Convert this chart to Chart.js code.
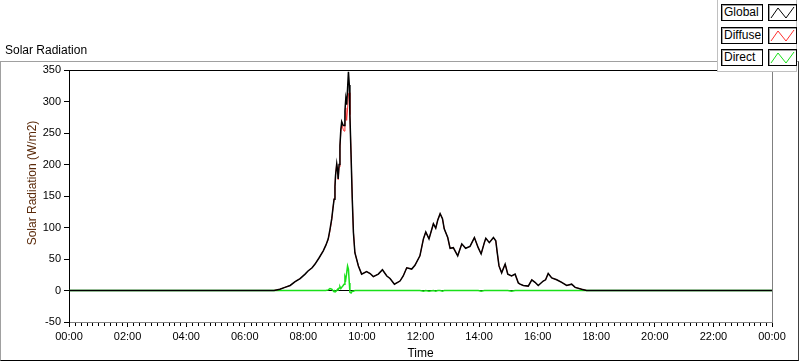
<!DOCTYPE html>
<html>
<head>
<meta charset="utf-8">
<script src="https://cdn.jsdelivr.net/npm/chart.js@4.4.1/dist/chart.umd.min.js"></script>
<style>
  html, body { margin:0; padding:0; background:#fff; }
  body { width:800px; height:361px; overflow:hidden; position:relative; font-family:"Liberation Sans", Arial, sans-serif; }
  #frame { position:absolute; left:0; top:61px; width:797px; height:298px; border-top:1px solid #a0a0a0; border-left:1px solid #a0a0a0; border-bottom:1px solid #000; border-right:1px solid #404040; box-sizing:content-box; }
  #cv { position:absolute; left:0; top:0; }
  #title { position:absolute; left:5px; top:43px; font-size:12px; color:#000; white-space:nowrap; }
  #legend { position:absolute; left:717px; top:0; width:80px; height:72px; background:#fff; border-left:1px solid #c0c0c0; border-bottom:1px solid #c0c0c0; border-right:1px solid #c0c0c0; box-sizing:border-box; }
  .lab { position:absolute; left:3px; width:42px; height:17px; border:1px solid #000; box-shadow: inset 1px 1px 0 #a0a0a0; box-sizing:border-box; font-size:12px; line-height:15px; padding-left:2px; background:#fff; white-space:nowrap; }
  .smp { position:absolute; left:50px; width:29px; height:17px; border:1px solid #000; box-shadow: inset 1px 1px 0 #a0a0a0; box-sizing:border-box; background:#fff; }
  .smp svg { position:absolute; left:0; top:0; }
</style>
</head>
<body>
<div id="frame"></div>
<canvas id="cv" width="800" height="361"></canvas>
<div id="title">Solar Radiation</div>
<div id="legend"></div>
<script>
// ---- data ----
const seriesNames = ["Global", "Diffuse", "Direct"];
const seriesColors = ["#000000", "#ff3030", "#19e019"];

// time of day in hours
const timeHours = [
  0, 7.00, 7.20, 7.37, 7.55, 7.72, 7.89, 8.06, 8.16, 8.30,
  8.40, 8.54, 8.68, 8.77, 8.85, 8.91, 8.97, 9.01, 9.05, 9.08,
  9.10, 9.14, 9.17, 9.19, 9.22, 9.25, 9.28, 9.31, 9.36, 9.39,
  9.42, 9.45, 9.48, 9.51, 9.54, 9.57, 9.59, 9.63, 9.67, 9.71,
  9.76, 9.88, 9.99, 10.16, 10.28, 10.39, 10.56, 10.70, 10.85, 10.96,
  11.11, 11.30, 11.41, 11.53, 11.70, 11.81, 11.98, 12.10, 12.18, 12.29,
  12.44, 12.52, 12.59, 12.67, 12.75, 12.81, 12.93, 13.01, 13.12, 13.27,
  13.41, 13.54, 13.69, 13.84, 13.97, 14.07, 14.18, 14.23, 14.35, 14.49,
  14.57, 14.62, 14.68, 14.77, 14.89, 14.98, 15.11, 15.23, 15.34, 15.40,
  15.51, 15.68, 15.80, 15.91, 16.02, 16.19, 16.27, 16.36, 16.48, 16.65,
  16.82, 16.99, 17.16, 17.28, 17.50, 17.67, 24
];

const globalRad = [
  0, 0, 2, 5, 8, 14, 19, 26, 31, 36,
  42, 52, 63, 72, 82, 97, 114, 130, 145, 165,
  183, 201, 190, 177, 200, 230, 255, 268, 262, 262,
  285, 305, 295, 320, 347, 326, 278, 214, 146, 92,
  60, 39, 26, 30, 27, 22, 26, 33, 23, 19,
  10, 15, 23, 36, 34, 40, 55, 82, 93, 82,
  106, 99, 112, 122, 114, 98, 84, 67, 68, 55,
  74, 67, 70, 84, 68, 58, 76, 83, 76, 84,
  79, 60, 39, 28, 42, 26, 23, 26, 12, 10,
  8, 7, 17, 13, 8, 15, 17, 27, 20, 17,
  13, 8, 10, 5, 2, 0, 0
];

const diffuseRad = [
  0, 0, 2, 5, 8, 14, 19, 26, 31, 36,
  42, 52, 63, 72, 81, 95, 112, 130, 146, 165,
  184, 201, 188, 176, 196, 225, 252, 264, 256, 253,
  267, 290, 270, 288, 312, 314, 279, 216, 147, 93,
  60, 39, 26, 30, 27, 22, 26, 33, 23, 19,
  10, 15, 23, 36, 34, 40, 55, 82, 93, 82,
  106, 99, 112, 122, 114, 98, 84, 67, 68, 55,
  74, 67, 70, 84, 68, 58, 76, 83, 76, 84,
  79, 60, 39, 28, 42, 26, 23, 26, 12, 10,
  8, 7, 17, 13, 8, 15, 17, 27, 20, 17,
  13, 8, 10, 5, 2, 0, 0
];

const directRad = [
  0, 0, 0, 0, 0, 0, 0, 0, 0, 0,
  0, 0, 0, 0, 1, 3, 2, 0, -2, -1,
  -2, 0, 2, 1, 4, 6, 3, 5, 8, 10,
  22, 18, 28, 39, 34, 12, -3, -4, -1, -1,
  0, 0, 0, 0, 0, 0, 0, 0, 0, 0,
  0, 0, 0, 0, 0, 0, 0, -1, 0, -1,
  0, -1, 0, 0, -1, 0, 0, 0, 0, 0,
  0, 0, 0, 0, 0, -1, 0, 0, 0, 0,
  0, 0, 0, 0, 0, 0, -1, 0, 0, 0,
  0, 0, 0, 0, 0, 0, 0, 0, 0, 0,
  0, 0, 0, 0, 0, 0, 0
];

const yTicks = [-50, 0, 50, 100, 150, 200, 250, 300, 350];
const xTickHours = [0, 2, 4, 6, 8, 10, 12, 14, 16, 18, 20, 22, 24];
const xTickLabels = ["00:00","02:00","04:00","06:00","08:00","10:00","12:00","14:00","16:00","18:00","20:00","22:00","00:00"];

// ---- legend (HTML) ----
const legend = document.getElementById('legend');
seriesNames.forEach((name, i) => {
  const top = 4 + i * 22.7;
  const lab = document.createElement('div');
  lab.className = 'lab'; lab.style.top = top + 'px'; lab.textContent = name;
  legend.appendChild(lab);
  const smp = document.createElement('div');
  smp.className = 'smp'; smp.style.top = top + 'px';
  smp.innerHTML = '<svg width="27" height="15" viewBox="0 0 27 15"><polyline points="2,13 9,3 17,13 25,2" fill="none" stroke="' + seriesColors[i] + '" stroke-width="1"/></svg>';
  legend.appendChild(smp);
});

// ---- chart ----
Chart.defaults.font.family = '"Liberation Sans", Arial, sans-serif';
Chart.defaults.font.size = 11;
Chart.defaults.color = '#000';

const mk = (vals) => timeHours.map((t, i) => ({ x: t, y: vals[i] }));

const framePlugin = {
  id: 'frame',
  afterLayout(chart) {
    // shift the y-axis title upward a little, as in the reference
    const ys = chart.scales.y;
    if (ys && !ys._titleShifted) {
      const orig = ys.drawTitle;
      ys.drawTitle = function () {
        const t = this.top, b = this.bottom;
        this.top = t - 13; this.bottom = b - 13;
        orig.call(this);
        this.top = t; this.bottom = b;
      };
      ys._titleShifted = true;
    }
  },
  beforeDatasetsDraw(chart) {
    const { ctx, chartArea: a } = chart;
    ctx.save();
    ctx.lineWidth = 1;
    ctx.strokeStyle = '#808080';
    ctx.beginPath(); ctx.moveTo(a.right + 0.5, a.top); ctx.lineTo(a.right + 0.5, a.bottom); ctx.stroke();
    ctx.strokeStyle = '#000';
    ctx.beginPath(); ctx.moveTo(a.left, a.top + 0.5); ctx.lineTo(a.right + 1, a.top + 0.5); ctx.stroke();
    ctx.restore();
  },
  afterDraw(chart) {
    const { ctx } = chart;
    const xs = chart.scales.x;
    ctx.save();
    ctx.strokeStyle = '#000';
    ctx.lineWidth = 1;
    for (let i = 0; i <= 120; i++) {
      if (i % 10 === 0) continue;
      const px = Math.round(xs.getPixelForValue(i * 0.2)) + 0.5;
      ctx.beginPath(); ctx.moveTo(px, xs.top + 1); ctx.lineTo(px, xs.top + 4); ctx.stroke();
    }
    ctx.restore();
  }
};

new Chart(document.getElementById('cv'), {
  type: 'line',
  data: {
    datasets: [
      { label: seriesNames[0], data: mk(globalRad), borderColor: seriesColors[0], borderWidth: 1.5, pointRadius: 0, tension: 0 },
      { label: seriesNames[1], data: mk(diffuseRad), borderColor: seriesColors[1], borderWidth: 1, pointRadius: 0, tension: 0 },
      { label: seriesNames[2], data: mk(directRad), borderColor: seriesColors[2], borderWidth: 1.5, pointRadius: 0, tension: 0 }
    ]
  },
  options: {
    responsive: false,
    animation: false,
    devicePixelRatio: 1,
    layout: { padding: { left: 0, right: 28, top: 70, bottom: 0 } },
    plugins: { legend: { display: false }, tooltip: { enabled: false }, title: { display: false } },
    scales: {
      x: {
        type: 'linear', min: 0, max: 24,
        afterFit(s) { s.height = 39; },
        afterBuildTicks(s) { s.ticks = xTickHours.map(v => ({ value: v })); },
        ticks: { autoSkip: false, maxRotation: 0, padding: 3, color: '#000',
          callback: (v) => xTickLabels[xTickHours.indexOf(v)] },
        grid: { drawOnChartArea: false, tickLength: 5, tickColor: '#000' },
        border: { color: '#808080', width: 1 },
        title: { display: true, text: 'Time', color: '#000', font: { size: 12, lineHeight: 1.2 }, padding: { top: 0, bottom: 0 } }
      },
      y: {
        min: -50, max: 350,
        afterFit(s) { s.width = 69; },
        afterBuildTicks(s) { s.ticks = yTicks.map(v => ({ value: v })); },
        ticks: { padding: 3, color: '#000' },
        grid: { color: (c) => (c.tick && c.tick.value === 0) ? '#000' : 'rgba(0,0,0,0)', tickLength: 5, tickColor: '#000' },
        border: { color: '#000', width: 1 },
        title: { display: true, text: 'Solar Radiation (W/m2)', color: '#5a2a0a', font: { size: 12, lineHeight: 1.2 }, padding: { top: 25, bottom: 0 } }
      }
    }
  },
  plugins: [framePlugin]
});
</script>
</body>
</html>
